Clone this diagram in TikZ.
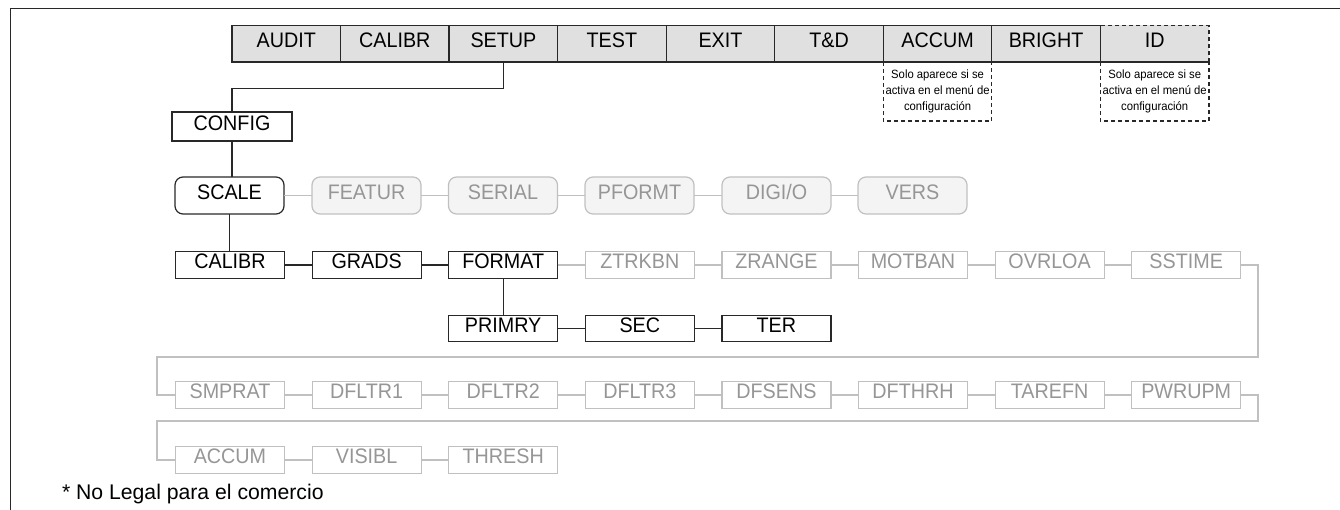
\documentclass[tikz,border=0pt]{standalone}
\usepackage{fontspec}
\setmainfont{Liberation Sans}
\newfontfamily\condfont[FakeStretch=0.94]{Liberation Sans}
\definecolor{menufill}{RGB}{224,224,224}
\definecolor{lineblk}{RGB}{40,40,40}
\definecolor{graybd}{RGB}{192,192,192}
\definecolor{graytx}{RGB}{150,150,150}
\definecolor{grayfill}{RGB}{244,244,244}
\begin{document}
\begin{tikzpicture}[x=1pt,y=-1pt,
  every node/.style={inner sep=0pt, outer sep=0pt, font=\condfont\fontsize{21}{22}\selectfont, text height=0.72em, text depth=0pt},
  menubox/.style={draw=lineblk, line width=1.2pt, fill=menufill, minimum width=108.55pt, minimum height=36.5pt},
  blkbox/.style={draw=lineblk, line width=1.2pt, fill=white, minimum width=109pt, minimum height=26.5pt},
  grybox/.style={draw=graybd, line width=1.2pt, fill=white, text=graytx, minimum width=109pt, minimum height=26.5pt},
  rblkbox/.style={draw=lineblk, line width=1.2pt, fill=white, rounded corners=8pt, minimum width=109pt, minimum height=37pt},
  rgrybox/.style={draw=graybd, line width=1.2pt, fill=grayfill, text=graytx, rounded corners=8pt, minimum width=109pt, minimum height=37pt},
  bline/.style={draw=lineblk, line width=1.2pt},
  gline/.style={draw=graybd, line width=1.2pt},
  dashline/.style={draw=lineblk, line width=1.1pt, dash pattern=on 4pt off 3pt},
  notetext/.style={font=\condfont\fontsize{12}{16}\selectfont, align=center, text height=, text depth=}
]
\useasboundingbox (0,0) rectangle (1340,510);
% frame
\draw[draw=lineblk, line width=1.4pt] (10.5,510) -- (10.5,8.5) -- (1340,8.5);

% top menu
\node[menubox] (m1) at (286.3,43.75) {AUDIT};
\node[menubox] (m2) at (394.8,43.75) {CALIBR};
\node[menubox] (m3) at (503.4,43.75) {SETUP};
\node[menubox] (m4) at (611.9,43.75) {TEST};
\node[menubox] (m5) at (720.5,43.75) {EXIT};
\node[menubox] (m6) at (829.0,43.75) {T\&D};
\node[menubox] (m7) at (937.6,43.75) {ACCUM};
\node[menubox] (m8) at (1046.1,43.75) {BRIGHT};
\node[menubox, draw=none] (m9) at (1154.7,43.75) {ID};
\draw[bline] (m9.north west) -- (m9.south west) -- (m9.south east);
\draw[dashline] (m9.south east) -- (m9.north east) -- (m9.north west);

% notes
\node[minimum width=108.55pt, minimum height=59pt, anchor=north, text height=, text depth=] (n1) at (m7.south) {};
\node[notetext] (n1t) at (n1.center) {Solo aparece si se\\activa en el menú de\\configuración};
\draw[dashline] (n1.north west) -- (n1.south west) -- (n1.south east) -- (n1.north east);
\node[minimum width=108.55pt, minimum height=59pt, anchor=north, text height=, text depth=] (n2) at (m9.south) {};
\node[notetext] (n2t) at (n2.center) {Solo aparece si se\\activa en el menú de\\configuración};
\draw[dashline] (n2.north west) -- (n2.south west) -- (n2.south east) -- (n2.north east);

% config
\node[blkbox, minimum width=120pt, minimum height=29pt] (config) at (232,126.5) {CONFIG};
\draw[bline] (m3.south) -- ++(0,26.5) -| (config.north);

% row 2
\node[rblkbox] (scale) at (229.5,195.5) {SCALE};
\node[rgrybox] (featur) at (366.5,195.5) {FEATUR};
\node[rgrybox] (serial) at (503,195.5) {SERIAL};
\node[rgrybox] (pformt) at (639.5,195.5) {PFORMT};
\node[rgrybox] (digio) at (776.5,195.5) {DIGI/O};
\node[rgrybox] (vers) at (912.5,195.5) {VERS};
\draw[bline] (config.south) -- (config.south |- scale.north);
\draw[gline] (scale) -- (featur);
\draw[gline] (featur) -- (serial);
\draw[gline] (serial) -- (pformt);
\draw[gline] (pformt) -- (digio);
\draw[gline] (digio) -- (vers);

% row 3
\node[blkbox] (calibr) at (230,265) {CALIBR};
\node[blkbox] (grads) at (366.6,265) {GRADS};
\node[blkbox] (format) at (503.2,265) {FORMAT};
\node[grybox] (ztrkbn) at (639.8,265) {ZTRKBN};
\node[grybox] (zrange) at (776.4,265) {ZRANGE};
\node[grybox] (motban) at (913,265) {MOTBAN};
\node[grybox] (ovrloa) at (1049.6,265) {OVRLOA};
\node[grybox] (sstime) at (1186.2,265) {SSTIME};
\draw[bline] (scale.south) -- (scale.south |- calibr.north);
\draw[bline] (calibr) -- (grads);
\draw[bline] (grads) -- (format);
\draw[gline] (format) -- (ztrkbn);
\draw[gline] (ztrkbn) -- (zrange);
\draw[gline] (zrange) -- (motban);
\draw[gline] (motban) -- (ovrloa);
\draw[gline] (ovrloa) -- (sstime);

% row 4
\node[blkbox] (primry) at (503.2,328.5) {PRIMRY};
\node[blkbox] (sec) at (639.8,328.5) {SEC};
\node[blkbox] (ter) at (776.4,328.5) {TER};
\draw[bline] (format) -- (primry);
\draw[bline] (primry) -- (sec);
\draw[bline] (sec) -- (ter);

% row 5
\node[grybox] (smprat) at (230,395) {SMPRAT};
\node[grybox] (dfltr1) at (366.6,395) {DFLTR1};
\node[grybox] (dfltr2) at (503.2,395) {DFLTR2};
\node[grybox] (dfltr3) at (639.8,395) {DFLTR3};
\node[grybox] (dfsens) at (776.4,395) {DFSENS};
\node[grybox] (dfthrh) at (913,395) {DFTHRH};
\node[grybox] (tarefn) at (1049.6,395) {TAREFN};
\node[grybox] (pwrupm) at (1186.2,395) {PWRUPM};
\draw[gline] (smprat) -- (dfltr1);
\draw[gline] (dfltr1) -- (dfltr2);
\draw[gline] (dfltr2) -- (dfltr3);
\draw[gline] (dfltr3) -- (dfsens);
\draw[gline] (dfsens) -- (dfthrh);
\draw[gline] (dfthrh) -- (tarefn);
\draw[gline] (tarefn) -- (pwrupm);
\coordinate (wr1) at (1258,357);
\coordinate (wl1) at (157,357);
\draw[gline] (sstime.east) -| (wr1) -- (wl1) |- (smprat.west);

% row 6
\node[grybox] (accum) at (230,460) {ACCUM};
\node[grybox] (visibl) at (366.6,460) {VISIBL};
\node[grybox] (thresh) at (503.2,460) {THRESH};
\draw[gline] (accum) -- (visibl);
\draw[gline] (visibl) -- (thresh);
\coordinate (wr2) at (1258,421);
\coordinate (wl2) at (157,421);
\draw[gline] (pwrupm.east) -| (wr2) -- (wl2) |- (accum.west);

% footnote
\node[anchor=base west, font=\fontsize{21.2}{22}\selectfont, text height=, text depth=] (foot) at (62,499) {* No Legal para el comercio};
\end{tikzpicture}
\end{document}
